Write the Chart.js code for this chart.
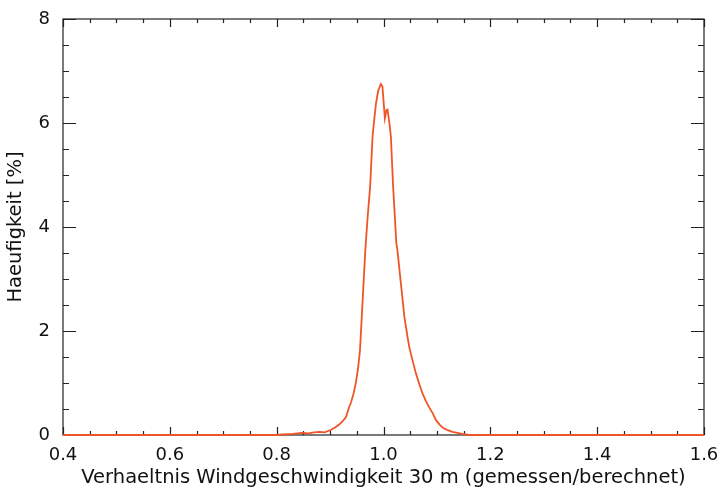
<!DOCTYPE html>
<html>
<head>
<meta charset="utf-8">
<script src="https://cdn.jsdelivr.net/npm/chart.js@4"></script>
<style>
  html, body { margin: 0; padding: 0; background: #fff; }
  #wrap { width: 722px; height: 492px; }
</style>
</head>
<body>
<div id="wrap"><canvas id="chart" width="722" height="492"></canvas></div>
<script>
// ratio measured/computed wind speed at 30 m, and frequency in %
var ratio = [0.40, 0.80, 0.81, 0.83, 0.848, 0.86, 0.87, 0.88, 0.89, 0.902, 0.91, 0.917, 0.924, 0.930,
  0.935, 0.939, 0.944, 0.948, 0.952, 0.956, 0.961, 0.966, 0.970, 0.975, 0.9795, 0.983, 0.986, 0.990,
  0.995, 0.998, 1.0026, 1.0055, 1.0075, 1.011, 1.0138, 1.018, 1.024, 1.026, 1.0325, 1.039, 1.044,
  1.048, 1.054, 1.0605, 1.067, 1.073, 1.079, 1.085, 1.092, 1.098, 1.105, 1.111, 1.119, 1.129,
  1.138, 1.148, 1.16, 1.60];
var freq = [0, 0, 0.01, 0.02, 0.04, 0.03, 0.05, 0.06, 0.05, 0.10, 0.15, 0.20, 0.27, 0.35,
  0.52, 0.62, 0.80, 0.99, 1.25, 1.63, 2.60, 3.56, 4.15, 4.78, 5.74, 6.10, 6.38, 6.62,
  6.75, 6.70, 6.09, 6.25, 6.26, 6.00, 5.74, 4.78, 3.69, 3.56, 2.92, 2.28, 1.95,
  1.70, 1.45, 1.19, 0.98, 0.80, 0.66, 0.54, 0.42, 0.29, 0.20, 0.14, 0.10, 0.06,
  0.04, 0.02, 0, 0];
var xTicks = [0.4, 0.6, 0.8, 1.0, 1.2, 1.4, 1.6];
var yTicks = [0, 2, 4, 6, 8];

var points = ratio.map(function (r, i) { return { x: r, y: freq[i] }; });
var tickFont = { family: "'DejaVu Sans', Arial, sans-serif", size: 18 };
var titleFont = { family: "'DejaVu Sans', Arial, sans-serif", size: 19.5 };

// box around the plot with inward major/minor ticks on all four sides
var frame = {
  id: 'frame',
  beforeDatasetsDraw: function (c) {
    var a = c.chartArea, ctx = c.ctx, x = c.scales.x, y = c.scales.y;
    ctx.save();
    ctx.strokeStyle = '#222';
    ctx.lineWidth = 1.2;
    ctx.strokeRect(a.left, a.top, a.right - a.left, a.bottom - a.top);
    ctx.beginPath();
    for (var v = 0.4; v <= 1.6001; v += 0.05) {
      var px = Math.round(x.getPixelForValue(v)) + 0.5;
      var len = Math.abs(v * 5 - Math.round(v * 5)) < 1e-6 ? 8 : 4;
      ctx.moveTo(px, a.bottom); ctx.lineTo(px, a.bottom - len);
      ctx.moveTo(px, a.top); ctx.lineTo(px, a.top + len);
    }
    for (var w = 0; w <= 8.0001; w += 0.5) {
      var py = Math.round(y.getPixelForValue(w)) + 0.5;
      var len2 = (Math.abs(w / 2 - Math.round(w / 2)) < 1e-6) ? 13 : 6;
      ctx.moveTo(a.left, py); ctx.lineTo(a.left + len2, py);
      ctx.moveTo(a.right, py); ctx.lineTo(a.right - len2, py);
    }
    ctx.stroke();
    ctx.restore();
  }
};

new Chart(document.getElementById('chart'), {
  type: 'line',
  data: {
    datasets: [{
      data: points,
      borderColor: '#ef5527',
      borderWidth: 1.8,
      pointRadius: 0,
      tension: 0,
      clip: 4
    }]
  },
  options: {
    responsive: false,
    animation: false,
    layout: { padding: { top: 19, right: 18, left: 0, bottom: 0 } },
    plugins: { legend: { display: false }, tooltip: { enabled: false } },
    scales: {
      x: {
        type: 'linear', min: 0.4, max: 1.6,
        afterBuildTicks: function (s) { s.ticks = xTicks.map(function (v) { return { value: v }; }); },
        afterFit: function (s) { s.height = 57; s.paddingLeft = 0; s.paddingRight = 0; },
        grid: { display: false, drawTicks: false },
        border: { display: false },
        ticks: { color: '#111', font: tickFont, padding: 10, maxRotation: 0,
          callback: function (v) { return v.toFixed(1); } },
        title: { display: true, text: 'Verhaeltnis Windgeschwindigkeit 30 m (gemessen/berechnet)',
          color: '#111', font: titleFont, padding: { top: 0, bottom: 2 } }
      },
      y: {
        type: 'linear', min: 0, max: 8,
        afterBuildTicks: function (s) { s.ticks = yTicks.map(function (v) { return { value: v }; }); },
        afterFit: function (s) { s.width = 63; s.paddingTop = 0; s.paddingBottom = 0; },
        grid: { display: false, drawTicks: false },
        border: { display: false },
        ticks: { color: '#111', font: tickFont, padding: 13 },
        title: { display: true, text: 'Haeufigkeit [%]', color: '#111', font: titleFont,
          padding: { top: 4, bottom: 0 } }
      }
    }
  },
  plugins: [frame]
});
</script>
</body>
</html>
